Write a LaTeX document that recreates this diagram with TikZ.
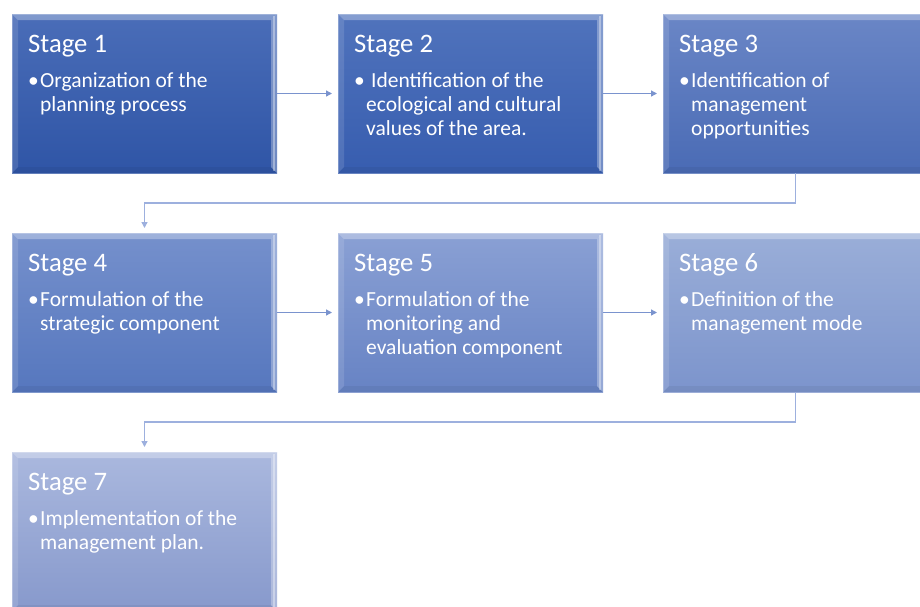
\documentclass[tikz,border=0pt]{standalone}
\usepackage{fontspec}
\setmainfont{Carlito}
\usetikzlibrary{arrows.meta}
\definecolor{conna}{HTML}{7A93CE}
\definecolor{connb}{HTML}{9DB0DE}
\definecolor{t1}{HTML}{4A6DB8}\definecolor{b1}{HTML}{2F55A6}
\definecolor{t2}{HTML}{5073BC}\definecolor{b2}{HTML}{375DAF}
\definecolor{t3}{HTML}{6A86C6}\definecolor{b3}{HTML}{4A6BB5}
\definecolor{t4}{HTML}{7590CC}\definecolor{b4}{HTML}{5677BE}
\definecolor{t5}{HTML}{8AA0D4}\definecolor{b5}{HTML}{6783C4}
\definecolor{t6}{HTML}{9AAED8}\definecolor{b6}{HTML}{7C94CC}
\definecolor{t7}{HTML}{AAB8DE}\definecolor{b7}{HTML}{8799CC}
\tikzset{
  stagebox/.style={anchor=north west, minimum width=265pt, minimum height=159pt, inner sep=0pt, outer sep=0pt, draw=none},
  titletext/.style={anchor=base west, inner sep=0pt, text=white, font=\fontsize{26.7pt}{30pt}\selectfont},
  bodytext/.style={anchor=base west, inner sep=0pt, text=white, font=\fontsize{21.5pt}{24pt}\selectfont},
  conn/.style={draw=conna, line width=1.3pt, -{Triangle[length=6pt,width=6pt]}, shorten >=6pt},
  connel/.style={draw=connb, line width=1.3pt, -{Triangle[length=6pt,width=6pt]}, shorten >=5pt}
}
\newcommand{\stg}[7]{%
  \node[stagebox, top color=#4, bottom color=#5] (#1) at (#2,#3) {};
  \fill[white, opacity=0.30] (#1.north west) -- (#1.north east) -- ([shift={(-6,6)}]#1.north east) -- ([shift={(6,6)}]#1.north west) -- cycle;
  \fill[white, opacity=0.12] (#1.north west) -- ([shift={(6,6)}]#1.north west) -- ([shift={(6,-6)}]#1.south west) -- (#1.south west) -- cycle;
  \fill[white, opacity=0.30] (#1.north east) -- ([shift={(-6,6)}]#1.north east) -- ([shift={(-6,-6)}]#1.south east) -- (#1.south east) -- cycle;
  \fill[white, opacity=0.35] ([shift={(-2,2)}]#1.north east) rectangle ([shift={(-4,-2)}]#1.south east);
  \fill[black, opacity=0.05] (#1.south west) -- ([shift={(6,-6)}]#1.south west) -- ([shift={(-6,-6)}]#1.south east) -- (#1.south east) -- cycle;
  \draw[white, opacity=0.25, line width=0.8pt] (#1.north west) rectangle (#1.south east);
  \node[titletext] (#1-t) at ([shift={(16,38)}]#1.north west) {#6};
  \node[bodytext] (#1-b) at ([shift={(16,73)}]#1.north west) {•};
  \foreach \l [count=\i] in {#7} {
    \node[bodytext] (#1-l\i) at ([shift={(28,{73+24*(\i-1)})}]#1.north west) {\l};
  }
}
\begin{document}
\begin{tikzpicture}[x=1pt,y=-1pt]
\useasboundingbox (0,0) rectangle (920,606);
\clip (0,0) rectangle (920,606);
\stg{s1}{12}{14}{t1}{b1}{Stage 1}{Organization of the,planning process}
\stg{s2}{338}{14}{t2}{b2}{Stage 2}{\hspace*{5pt}Identification of the,ecological and cultural,values of the area.}
\stg{s3}{663}{14}{t3}{b3}{Stage 3}{Identification of,management,opportunities}
\stg{s4}{12}{233}{t4}{b4}{Stage 4}{Formulation of the,strategic component}
\stg{s5}{338}{233}{t5}{b5}{Stage 5}{Formulation of the,monitoring and,evaluation component}
\stg{s6}{663}{233}{t6}{b6}{Stage 6}{Definition of the,management mode}
\stg{s7}{12}{452}{t7}{b7}{Stage 7}{Implementation of the,management plan.}
\draw[conn] (s1.east) -- (s2.west);
\draw[conn] (s2.east) -- (s3.west);
\draw[conn] (s4.east) -- (s5.west);
\draw[conn] (s5.east) -- (s6.west);
\draw[connel] (s3.south) -- ++(0,30) -| (s4.north);
\draw[connel] (s6.south) -- ++(0,30) -| (s7.north);
\end{tikzpicture}
\end{document}
